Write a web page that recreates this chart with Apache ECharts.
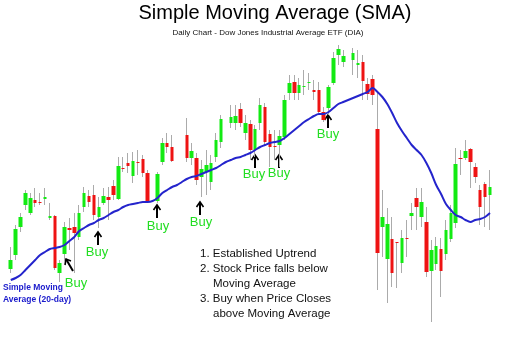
<!DOCTYPE html>
<html><head><meta charset="utf-8">
<script src="https://cdn.jsdelivr.net/npm/echarts@6/dist/echarts.min.js"></script>
<style>html,body{margin:0;padding:0;background:#fff}#c{width:520px;height:350px}</style>
</head><body><div id="c"></div>
<script>
// Daily candles (price units, arbitrary scale); null = no candle drawn
const open  = [61,75,103,125,117,130,128,131,112,114,57,76,102,103,93,123,134,135,113,127,133,144,131,162,167,154,168,171,157,null,129,168,187,183,null,null,195,172,172,153,158,148,173,188,null,207,207,221,197,206,180,207,223,196,184,185,193,237,248,237,243,247,240,240,218,222,247,275,268,null,270,265,268,246,251,201,103,71,91,88,67,92,114,132,113,108,59,66,81,76,91,107,172,172,181,163,140,146,135];
const close = [70,101,113,137,132,127,127,133,114,62,67,103,100,97,117,137,128,115,123,134,130,135,164,161,164,169,167,157,128,null,156,187,183,169,null,null,172,179,150,161,165,167,190,211,null,213,214,207,207,180,201,225,188,183,183,194,230,247,237,245,244,248,238,218,210,243,272,281,274,null,277,267,249,236,235,77,113,106,57,87,92,91,117,123,128,58,80,84,59,100,117,166,171,179,168,153,123,133,143];
const low   = [57,70,98,120,115,123,125,125,110,60,48,68,80,57,90,118,123,110,102,125,110,130,130,158,157,147,155,153,127,null,127,165,177,168,null,null,168,165,145,133,135,140,168,182,null,202,200,203,190,170,173,200,185,163,170,163,190,230,230,230,235,240,230,217,208,215,245,265,263,null,255,252,230,230,225,40,73,27,43,42,57,73,100,100,103,53,8,60,33,70,88,102,155,170,142,147,105,103,100];
const high  = [83,105,117,140,137,142,137,142,127,115,70,108,112,117,125,143,140,145,133,142,143,150,173,173,177,178,180,175,160,null,158,192,197,195,null,null,212,187,177,170,180,175,197,215,null,225,225,227,215,210,205,232,227,200,200,200,235,255,255,252,260,257,250,248,223,245,278,285,280,null,282,280,275,252,255,237,140,122,113,88,100,110,127,142,142,123,90,93,92,110,125,182,180,190,182,167,145,148,160];
// 20-day simple moving average
const sma20 = [50,52,55,60,65,70,75,78,81,82,83,85,89,93,99,102,105,107,110,112,115,118,120,123,125,126,127,128,128,129,132,137,140,143,145,148,151,153,154,156,158,160,162,165,168,170,172,173,175,177,180,183,185,187,188,189,192,196,200,204,208,211,214,216,216,218,222,226,228,230,232,234,236,238,242,238,233,226,217,207,199,192,185,180,175,167,157,145,136,126,120,115,113,110,108,110,111,113,117];
const days = open.map((_, i) => 'Day ' + (i + 1));

const GREEN = '#13ea13', RED = '#ee1313', WICK = '#ababab';
const wickData = open.map((o, i) => o == null ? ['-','-','-','-'] : [o, close[i], low[i], high[i]]);
const bodyData = open.map((o, i) => o == null ? ['-','-','-','-'] : [o, close[i], Math.min(o, close[i]), Math.max(o, close[i])]);

function arrow(x, yTop, len) {
  return [
    {type:'polyline', shape:{points:[[x, yTop], [x, yTop + len]]}, style:{stroke:'#000', lineWidth:2}},
    {type:'polyline', shape:{points:[[x - 3.5, yTop + 5], [x, yTop], [x + 3.5, yTop + 5]]}, style:{stroke:'#000', lineWidth:1.6, fill:null}}
  ];
}
function buy(x, y) {
  return {type:'text', style:{text:'Buy', x:x, y:y, font:'13px "Liberation Sans", Arial', fill:'#22dd22', textAlign:'center', textVerticalAlign:'middle'}};
}
const F = '11.5px "Liberation Sans", Arial';
function txt(t, x, y) { return {type:'text', style:{text:t, x:x, y:y, font:F, fill:'#111', textVerticalAlign:'middle'}}; }

const chart = echarts.init(document.getElementById('c'), null, {renderer:'canvas'});
chart.setOption({
  animation: false,
  backgroundColor: '#fff',
  grid: {left: 8.3, right: 27.6, top: 40, bottom: 20},
  xAxis: {type:'category', data: days, show:false, boundaryGap:true},
  yAxis: {type:'value', min:0, max:290, show:false},
  series: [
    {type:'candlestick', data: wickData, barWidth: 1,
     itemStyle:{color:WICK, color0:WICK, borderColor:WICK, borderColor0:WICK, borderWidth:1}},
    {type:'candlestick', data: bodyData, barWidth: 4,
     itemStyle:{color:GREEN, color0:RED, borderColor:GREEN, borderColor0:RED, borderWidth:0}},
    {type:'line', data: sma20, symbol:'none', smooth:0.3,
     lineStyle:{color:'#2424cc', width:2}, z:5}
  ],
  graphic: [
    {type:'text', style:{text:'Simple Moving Average (SMA)', x:275, y:13, font:'20px "Liberation Sans", Arial', fill:'#000', textAlign:'center', textVerticalAlign:'middle'}},
    {type:'text', style:{text:'Daily Chart - Dow Jones Industrial Average ETF (DIA)', x:268, y:33, font:'8px "Liberation Sans", Arial', fill:'#111', textAlign:'center', textVerticalAlign:'middle'}},
    {type:'text', style:{text:'Simple Moving', x:3, y:288, font:'bold 8.5px "Liberation Sans", Arial', fill:'#1a1acc', textVerticalAlign:'middle'}},
    {type:'text', style:{text:'Average (20-day)', x:3, y:300, font:'bold 8.5px "Liberation Sans", Arial', fill:'#1a1acc', textVerticalAlign:'middle'}},
    {type:'polyline', shape:{points:[[73, 271], [66, 259]]}, style:{stroke:'#000', lineWidth:2}},
    {type:'polyline', shape:{points:[[65, 265], [66, 259], [71, 261]]}, style:{stroke:'#000', lineWidth:1.6, fill:null}},
    buy(76, 283),
    ...arrow(98, 232, 13), buy(97, 252),
    ...arrow(157, 205, 13), buy(158, 226),
    ...arrow(200, 202, 13), buy(201, 222),
    ...arrow(255, 155, 13), buy(254, 174),
    ...arrow(279, 155, 13), buy(279, 173),
    ...arrow(328, 115, 13), buy(328, 134),
    txt('1. Established Uptrend', 200, 254),
    txt('2. Stock Price falls below', 200, 269),
    txt('Moving Average', 213, 284),
    txt('3. Buy when Price Closes', 200, 299),
    txt('above Moving Average', 213, 314)
  ]
});
</script></body></html>
